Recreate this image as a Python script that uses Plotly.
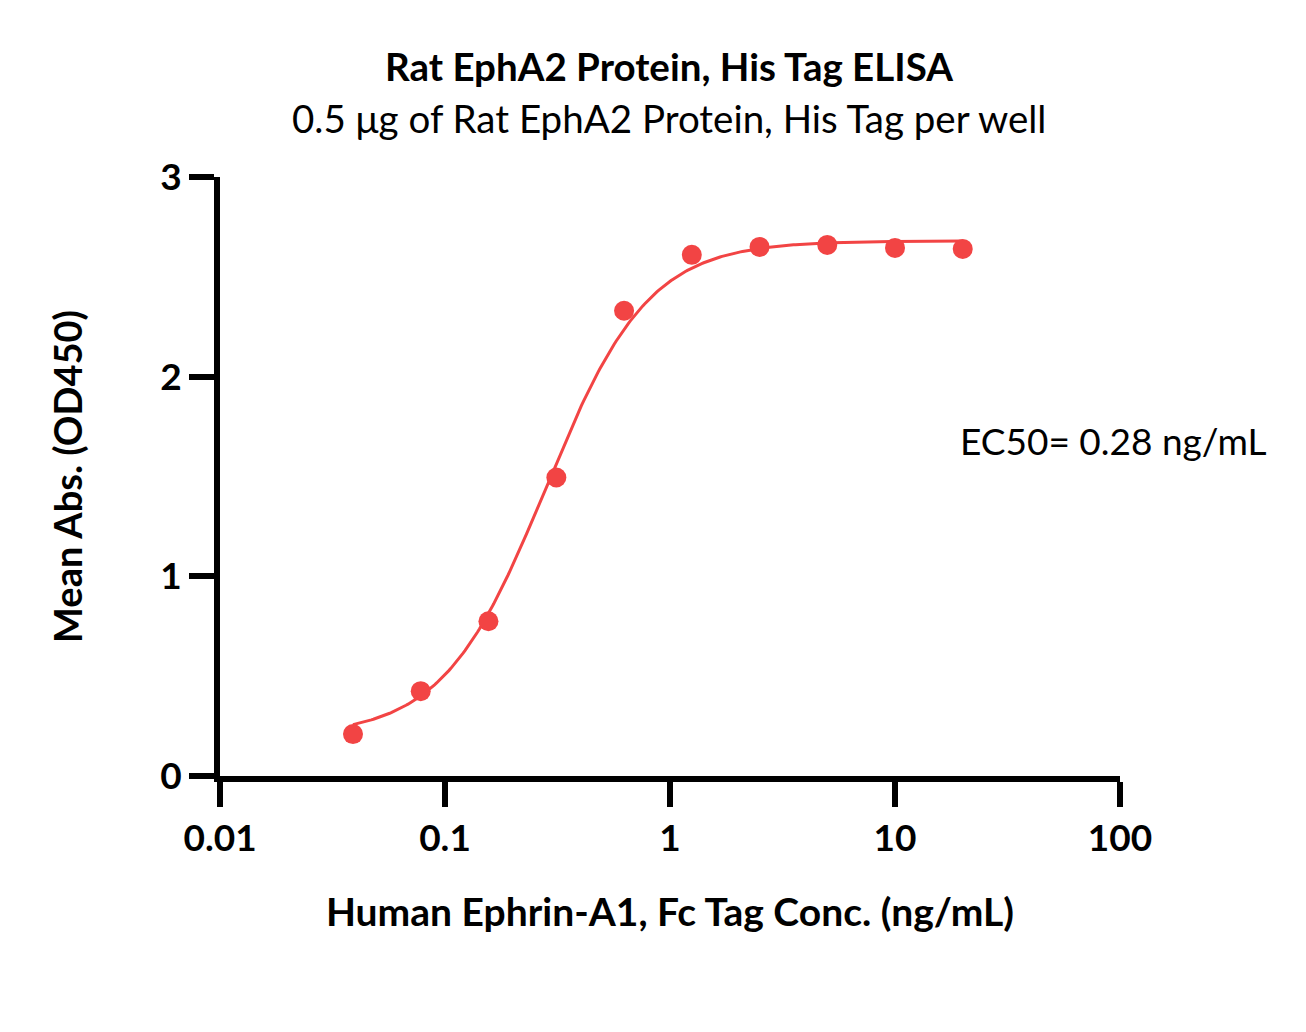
import numpy as np
import plotly.graph_objects as go

# Data
conc = [0.039, 0.078, 0.156, 0.3125, 0.625, 1.25, 2.5, 5, 10, 20]
absorbance = [0.21, 0.425, 0.775, 1.495, 2.33, 2.61, 2.65, 2.66, 2.645, 2.64]

# 4PL fit parameters
fit_bottom = 0.2
fit_top = 2.68
fit_ec50 = 0.28
fit_hill = 1.9

x_ticks = [0.01, 0.1, 1, 10, 100]
x_tick_labels = ["0.01", "0.1", "1", "10", "100"]
y_ticks = [0, 1, 2, 3]

RED = "#F24444"
FONT = "Lato"

xfit = np.logspace(np.log10(conc[0]), np.log10(conc[-1]), 300)
yfit = fit_bottom + (fit_top - fit_bottom) / (1 + (fit_ec50 / xfit) ** fit_hill)

fig = go.Figure()
fig.add_trace(go.Scatter(x=xfit, y=yfit, mode="lines",
                         line=dict(color=RED, width=3), hoverinfo="skip"))
fig.add_trace(go.Scatter(x=conc, y=absorbance, mode="markers",
                         marker=dict(color=RED, size=20)))

fig.update_layout(
    width=1306, height=1032,
    paper_bgcolor="white", plot_bgcolor="white",
    showlegend=False,
    margin=dict(l=220, r=186, t=177, b=256),
    font=dict(family=FONT, color="black"),
    xaxis=dict(type="log", range=[-2, 2], tickvals=x_ticks, ticktext=x_tick_labels,
               showgrid=False, zeroline=False, showline=True, linecolor="black",
               linewidth=6, ticks="outside", ticklen=25, tickwidth=6, tickcolor="black",
               tickfont=dict(size=37, family=FONT, weight="bold"),
               title=dict(text="<b>Human Ephrin-A1, Fc Tag Conc. (ng/mL)</b>",
                          font=dict(size=39, family=FONT), standoff=42)),
    yaxis=dict(range=[0, 3], tickvals=y_ticks,
               showgrid=False, zeroline=False, showline=True, linecolor="black",
               linewidth=6, ticks="outside", ticklen=25, tickwidth=6, tickcolor="black",
               tickfont=dict(size=37, family=FONT, weight="bold"),
               title=dict(text="<b>Mean Abs. (OD450)</b>",
                          font=dict(size=38, family=FONT), standoff=68)),
)

fig.add_annotation(text="<b>Rat EphA2 Protein, His Tag ELISA</b>", xref="paper", yref="paper",
                   x=0.5, y=1, xshift=-1, yshift=111, showarrow=False,
                   font=dict(size=38.5, family=FONT), xanchor="center", yanchor="middle")
fig.add_annotation(text="0.5 μg of Rat EphA2 Protein, His Tag per well", xref="paper", yref="paper",
                   x=0.5, y=1, xshift=-1, yshift=59, showarrow=False,
                   font=dict(size=38.5, family=FONT), xanchor="center", yanchor="middle")
fig.add_annotation(text="EC50= 0.28 ng/mL", xref="paper", yref="paper",
                   x=0, xshift=958 - 220, y=0, yshift=776 - 440, showarrow=False,
                   font=dict(size=37, family=FONT), xanchor="left", yanchor="middle")

fig.write_html("out.html")
